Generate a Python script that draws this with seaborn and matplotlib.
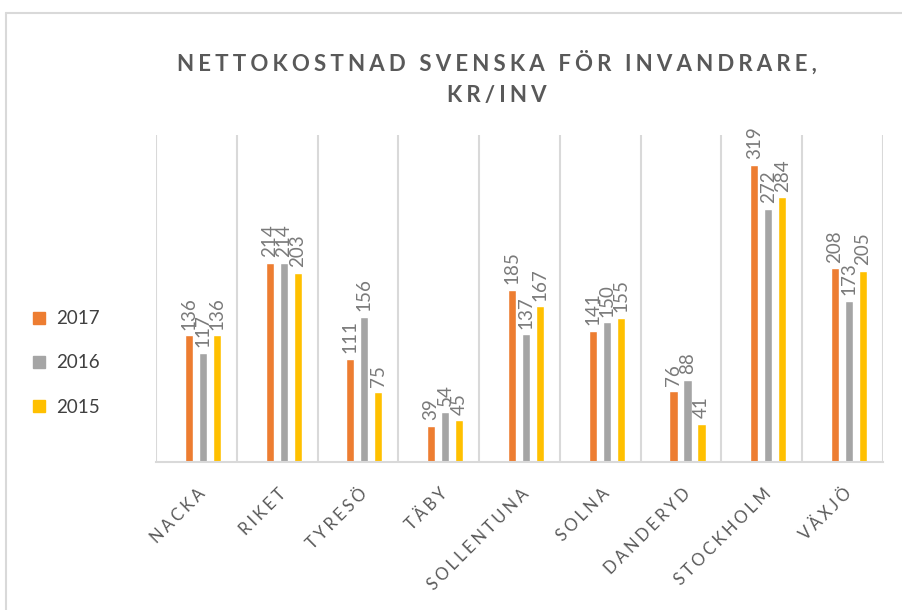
import matplotlib
matplotlib.use("Agg")
import matplotlib.pyplot as plt
from matplotlib.lines import Line2D
import numpy as np
import pandas as pd
import seaborn as sns

# Data
places = ["NACKA", "RIKET", "TYRESÖ", "TÄBY", "SOLLENTUNA",
          "SOLNA", "DANDERYD", "STOCKHOLM", "VÄXJÖ"]
years = ["2017", "2016", "2015"]
v2017 = [136, 214, 111, 39, 185, 141, 76, 319, 208]
v2016 = [117, 214, 156, 54, 137, 150, 88, 272, 173]
v2015 = [136, 203, 75, 45, 167, 155, 41, 284, 205]
colors = ["#ED7D31", "#A5A5A5", "#FFC000"]

title = "NETTOKOSTNAD SVENSKA FÖR INVANDRARE,\nKR/INV"


def spaced(text, sep="\u2009"):
    # fake letter spacing like the Excel chart
    return "\n".join(sep.join(line) for line in text.split("\n"))


df = pd.DataFrame({
    "place": places * 3,
    "year": [y for y in years for _ in places],
    "value": v2017 + v2016 + v2015,
})

sns.set_theme(style="white")
plt.rcParams["font.family"] = ["Lato", "DejaVu Sans"]

fig = plt.figure(figsize=(9.02, 6.1), dpi=100)
ax = fig.add_axes([0.1729, 0.2426, 0.806, 0.5361])

sns.barplot(data=df, x="place", y="value", hue="year", hue_order=years,
            palette=colors, width=0.52, gap=0.42, saturation=1,
            ax=ax, legend=False)

for cont in ax.containers:
    ax.bar_label(cont, fmt="%d", rotation=90, padding=4,
                 fontsize=13.5, color="#7a7a7a")

n = len(places)
shift = 0.08
ax.set_xlim(-0.5 - shift, n - 0.5 - shift)
ax.set_ylim(0, 351)
ax.set_xticks(np.arange(n + 1) - 0.5 - shift, minor=True)
ax.grid(which="minor", axis="x", color="#d9d9d9", linewidth=1.5)
ax.grid(which="major", visible=False)
ax.set_yticks([])
ax.set_xlabel("")
ax.set_ylabel("")
for side in ["left", "top", "right"]:
    ax.spines[side].set_visible(False)
ax.spines["bottom"].set_color("#d9d9d9")
ax.spines["bottom"].set_linewidth(1.5)

ax.set_xticks(range(n))
ax.set_xticklabels([spaced(p, "\u2009\u200a") for p in places],
                   rotation=45, ha="right", va="center",
                   rotation_mode="anchor", fontsize=12, color="#595959")
ax.tick_params(axis="x", which="both", length=0, pad=21)

fig.text(0.551, 0.872, spaced(title, "\u2009\u200a"), ha="center", va="center",
         fontsize=16, fontweight="bold", color="#595959", linespacing=1.6)

handles = [Line2D([], [], marker="s", linestyle="", markersize=8,
                  markerfacecolor=c, markeredgecolor=c) for c in colors]
fig.legend(handles, years, loc="center left", bbox_to_anchor=(0.035, 0.405),
           frameon=False, fontsize=13.5, labelspacing=1.45, handlelength=0.8,
           handletextpad=0.5, borderpad=0, borderaxespad=0,
           labelcolor="#404040")

# light frame around the chart area
fig.add_artist(Line2D([6 / 902, 6 / 902], [0, 1 - 13 / 610],
                      transform=fig.transFigure, color="#d9d9d9", lw=1.5))
fig.add_artist(Line2D([6 / 902, 1], [1 - 13 / 610, 1 - 13 / 610],
                      transform=fig.transFigure, color="#d9d9d9", lw=1.5))

fig.savefig("out.png", dpi=100)
